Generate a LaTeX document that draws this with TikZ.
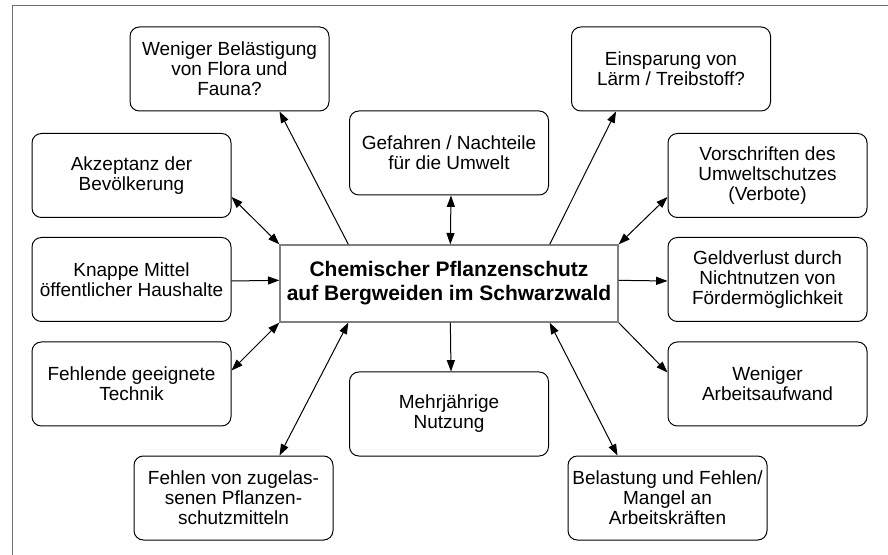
\documentclass[tikz,border=0pt]{standalone}
\usepackage{fontspec}
\setmainfont{Liberation Sans}
\usetikzlibrary{arrows.meta,calc}
\definecolor{framegray}{RGB}{110,110,110}
\definecolor{centergray}{RGB}{128,128,128}
\begin{document}
\begin{tikzpicture}[x=0.75pt,y=-0.75pt,
  box/.style={draw=black, line width=0.75pt, rounded corners=7pt,
    minimum width=149.25pt, minimum height=63pt, inner sep=1pt,
    align=center, font=\fontsize{14.25}{15}\selectfont},
  mainbox/.style={draw=centergray, line width=1pt,
    minimum width=253.5pt, minimum height=57.75pt, inner sep=1pt,
    align=center, font=\bfseries\fontsize{15.75}{18}\selectfont},
  conn/.style={draw=black, line width=0.75pt},
  one/.style={conn, -{Triangle[length=8.5pt,width=6pt]}},
  two/.style={conn, {Triangle[length=8.5pt,width=6pt]}-{Triangle[length=8.5pt,width=6pt]}},
  framebar/.style={draw=framegray, line width=1pt}
]
\useasboundingbox (0,0) rectangle (888,555);
\draw[framebar] (12.5,555) -- (12.5,5.5) -- (888,5.5);

\node[mainbox] (c) at (449,283.5) {Chemischer Pflanzenschutz\\auf Bergweiden im Schwarzwald};

\node[box] (wb) at (229.5,69) {Weniger Belästigung\\von Flora und\\Fauna?};
\node[box] (ak) at (131.5,175.5) {Akzeptanz der\\Bevölkerung};
\node[box] (kn) at (131.5,279.5) {Knappe Mittel\\öffentlicher Haushalte};
\node[box] (fe) at (131.5,384) {Fehlende geeignete\\Technik};
\node[box] (fv) at (233.5,498) {Fehlen von zugelas-\\senen Pflanzen-\\schutzmitteln};
\node[box] (ge) at (449,153) {Gefahren / Nachteile\\für die Umwelt};
\node[box] (me) at (449,414) {Mehrjährige\\Nutzung};
\node[box] (ei) at (671,69) {Einsparung von\\Lärm / Treibstoff?};
\node[box] (vo) at (767.5,175.5) {Vorschriften des\\Umweltschutzes\\(Verbote)};
\node[box] (gd) at (767.5,279.5) {Geldverlust durch\\Nichtnutzen von\\Fördermöglichkeit};
\node[box] (wa) at (767.5,384) {Weniger\\Arbeitsaufwand};
\node[box] (be) at (667.5,498) {Belastung und Fehlen/\\Mangel an\\Arbeitskräften};

% connectors
\draw[one] ($(c.north west)+(69,0)$) -- ($(wb.south west)+(150,0)$);
\draw[two] (ak.south east |- 0,197) -- (c.north west);
\draw[one] ($(kn.north east)+(0,44)$) -- ($(c.north west)+(0,36)$);
\draw[two] ($(fe.north east)+(0,29)$) -- (c.south west);
\draw[two] ($(c.south west)+(69,0)$) -- ($(fv.north west)+(146,0)$);
\draw[two] ($(ge.south west)+(102,0)$) -- ($(c.north west)+(171,0)$);
\draw[one] ($(c.south west)+(171,0)$) -- ($(me.north west)+(102,0)$);
\draw[one] ($(c.north east)+(-69,0)$) -- ($(ei.south west)+(45,0)$);
\draw[two] (c.north east) -- ($(vo.south west)+(0,-21)$);
\draw[one] ($(c.north east)+(0,36)$) -- ($(gd.north west)+(0,44)$);
\draw[one] (c.south east) -- ($(wa.north west)+(0,31)$);
\draw[two] ($(c.south east)+(-69,0)$) -- ($(be.north west)+(50,0)$);
\end{tikzpicture}
\end{document}
